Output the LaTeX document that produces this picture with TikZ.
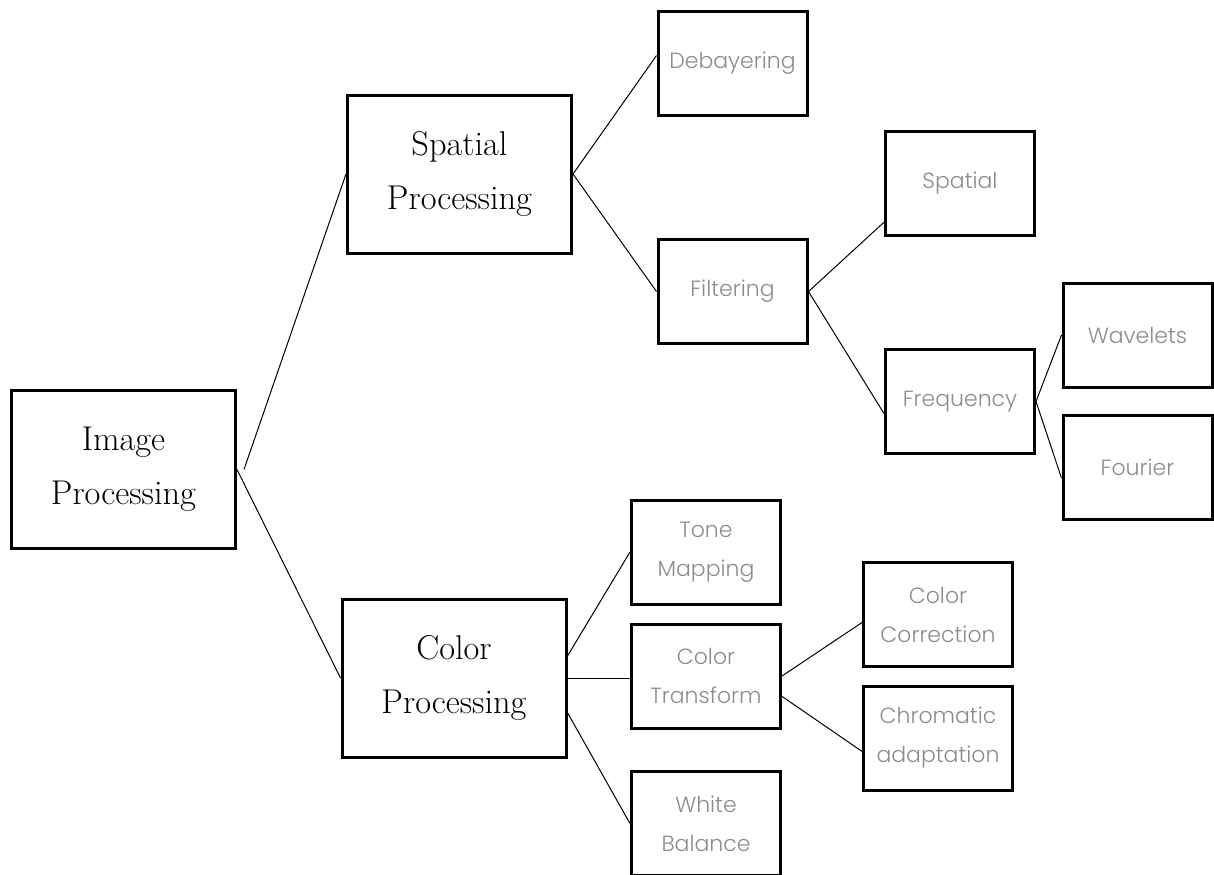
\documentclass[tikz,border=0pt]{standalone}
\usepackage{fontspec}
\usepackage{tikz}
\usetikzlibrary{calc}
\newfontfamily\leaffont{Poppins Light}

\tikzset{
	mainbox/.style={draw, line width=1.5pt, minimum width=112pt, minimum height=79pt,
		align=center, font=\fontsize{17.2}{27}\selectfont},
	leafbox/.style={draw, line width=1.5pt, minimum width=74.5pt, minimum height=52pt,
		align=center, text=black!45, font=\leaffont\fontsize{11}{19.5}\selectfont},
	link/.style={line width=0.5pt}
}

\begin{document}
\begin{tikzpicture}[x=0.5pt, y=-0.5pt]
			\useasboundingbox (0,0) rectangle (1214,874);
			\clip (0,0) rectangle (1214,874);

			% Main branches
			\node[mainbox] (img) at (123.5,469.5) {Image\\Processing};
			\node[mainbox] (spat) at (459.5,174) {Spatial\\Processing};
			\node[mainbox] (col) at (454,678) {Color\\Processing};

			% Spatial side
			\node[leafbox] (deb) at (732.5,63.5) {Debayering};
			\node[leafbox] (filt) at (732.5,291.5) {Filtering};
			\node[leafbox] (spl) at (960,183.5) {Spatial};
			\node[leafbox] (freq) at (960,401.5) {Frequency};
			\node[leafbox] (wav) at (1137.5,335) {Wavelets};
			\node[leafbox] (four) at (1137.5,467.5) {Fourier};

			% Color side
			\node[leafbox] (tone) at (706,552) {Tone\\Mapping};
			\node[leafbox] (ctr) at (706,676) {Color\\Transform};
			\node[leafbox] (wb) at (706,823.5) {White\\Balance};
			\node[leafbox] (ccorr) at (938,614.5) {Color\\Correction};
			\node[leafbox] (chrom) at (938,738) {Chromatic\\adaptation};

			\draw[link] ([xshift=3.5pt]img.east) -- (spat.west);
			\draw[link] (img.east) -- (col.west);

			\draw[link] (spat.east) -- (deb.174);
			\draw[link] (spat.east) -- (filt.west);
			\draw[link] (filt.east) -- (spl.207);
			\draw[link] (filt.east) -- (freq.189);
			\draw[link] (freq.east) -- (wav.west);
			\draw[link] (freq.east) -- (four.188);

			\draw[link] (col.11) -- (tone.west);
			\draw[link] (col.east) -- (col.east -| ctr.west);
			\draw[link] (col.343) -- (wb.west);
			\draw[link] (ctr.east) -- (ccorr.186);
			\draw[link] (ctr.345) -- (chrom.190);
		\end{tikzpicture}
\end{document}
